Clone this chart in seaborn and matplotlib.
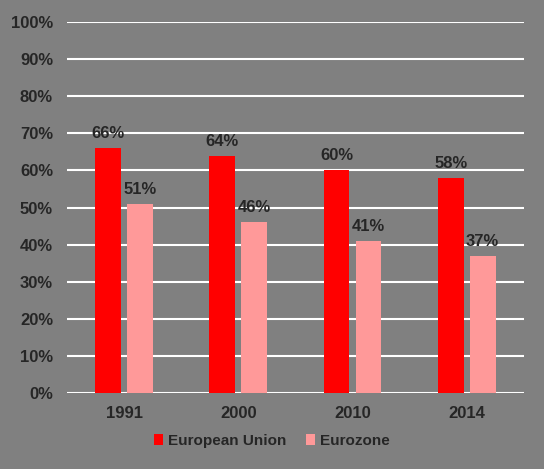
import pandas as pd
import matplotlib
matplotlib.use("Agg")
import matplotlib.pyplot as plt
import seaborn as sns

# Chart data
years = ["1991", "2000", "2010", "2014"]
european_union = [66, 64, 60, 58]
eurozone = [51, 46, 41, 37]
series_names = ["European Union", "Eurozone"]
colors = ["#ff0000", "#ff9999"]

df = pd.DataFrame({
    "year": years * 2,
    "value": european_union + eurozone,
    "series": [series_names[0]] * len(years) + [series_names[1]] * len(years),
})

sns.set_theme(style="white")
plt.rcParams["font.family"] = ["Liberation Sans", "DejaVu Sans"]
bg = "#808080"
txt = "#262626"
fs = 12

fig = plt.figure(figsize=(5.44, 4.69), dpi=100, facecolor=bg)
ax = fig.add_axes([0.123, 0.162, 0.840, 0.791])
ax.set_facecolor(bg)

sns.barplot(data=df, x="year", y="value", hue="series", palette=colors,
            width=0.56, gap=0.19, saturation=1, linewidth=0, ax=ax, zorder=3)

for c in ax.containers:
    ax.bar_label(c, labels=[f"{int(v)}%" for v in c.datavalues], padding=5,
                 fontsize=fs, fontweight="bold", color=txt)

ax.set_ylim(0, 100)
ax.set_xlim(-0.5, 3.5)
ax.set_yticks(range(0, 101, 10))
ax.set_yticklabels([f"{v}%" for v in range(0, 101, 10)])
ax.yaxis.grid(True, color="white", linewidth=1.5, zorder=0)
ax.set_axisbelow(True)
for s in ax.spines.values():
    s.set_visible(False)
ax.tick_params(axis="both", length=0, labelsize=fs, labelcolor=txt)
ax.tick_params(axis="y", pad=10)
ax.tick_params(axis="x", pad=9)
for lab in ax.get_xticklabels() + ax.get_yticklabels():
    lab.set_fontweight("bold")
ax.set_xlabel("")
ax.set_ylabel("")

ax.legend_.remove()
handles, labels = ax.get_legend_handles_labels()
leg = fig.legend(handles, labels, loc="center", bbox_to_anchor=(0.50, 0.06), ncol=2,
                 frameon=False, handlelength=0.6, handleheight=0.7, handletextpad=0.3,
                 columnspacing=1.3, prop={"size": 11, "weight": "bold"})
for t in leg.get_texts():
    t.set_color(txt)
for h in leg.legend_handles:
    h.set_linewidth(0)

fig.savefig("out.png", dpi=100, facecolor=bg)
